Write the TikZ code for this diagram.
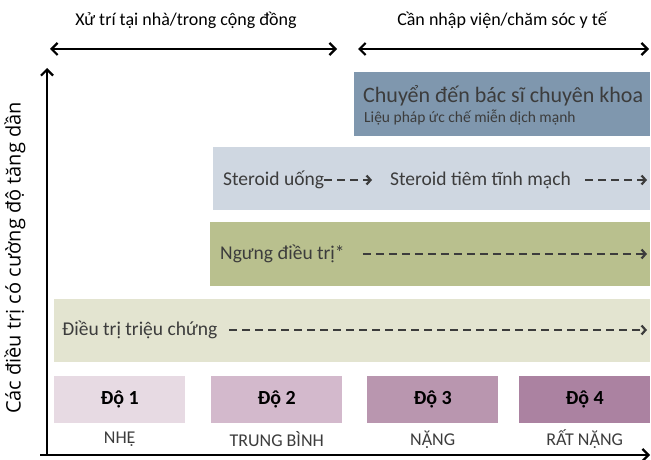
\documentclass[tikz,border=0pt]{standalone}
\usepackage{fontspec}
\setmainfont{Carlito}
\newfontfamily\labelfont{Open Sans}
\usetikzlibrary{arrows.meta}
\definecolor{refer}{HTML}{7F97AE}
\definecolor{steroid}{HTML}{CFD7E1}
\definecolor{hold}{HTML}{B9C08E}
\definecolor{sympt}{HTML}{E3E4D0}
\definecolor{grade1}{HTML}{E7DAE3}
\definecolor{grade2}{HTML}{D3B9CC}
\definecolor{grade3}{HTML}{B996AF}
\definecolor{grade4}{HTML}{AB82A1}
\definecolor{ink}{HTML}{3C3C3C}

\tikzset{
  band/.style={anchor=north west,inner sep=0pt,minimum height=#1},
  boxtext/.style={anchor=west,inner sep=0pt,text=ink,font=\fontsize{19.5}{22}\selectfont},
  dasharrow/.style={draw=ink,line width=2.6pt,dash pattern=on 8pt off 5pt,
    -{Straight Barb[length=4pt,width=9pt,line width=2.2pt]}},
}

\begin{document}
\begin{tikzpicture}[x=1pt,y=-1pt,font=\fontsize{18}{21}\selectfont]
\useasboundingbox (0,0) rectangle (651,460);

\begin{scope}[line width=2.2pt]
% Axes:
\coordinate (origin) at (47,455);
\coordinate (ytop) at (47,68);
\coordinate (xleft) at (40,455);
\coordinate (xright) at (650,455);
\draw [-{Straight Barb[length=6pt,width=12pt]}] (origin) -- (ytop);
\draw [-{Straight Barb[length=6pt,width=12pt]}] (xleft) -- (xright);

% Care settings:
\coordinate (home_l) at (50,49);
\coordinate (home_r) at (337,49);
\coordinate (hosp_l) at (358,49);
\coordinate (hosp_r) at (649,49);
\draw [{Straight Barb[length=6pt,width=12pt]}-{Straight Barb[length=6pt,width=12pt]}] (home_l) -- (home_r);
\draw [{Straight Barb[length=6pt,width=12pt]}-{Straight Barb[length=6pt,width=12pt]}] (hosp_l) -- (hosp_r);
\end{scope}

\node (home) at (186,20) {Xử trí tại nhà/trong cộng đồng};
\node (hosp) at (502,20) {Cần nhập viện/chăm sóc y tế};

\node [rotate=90,font=\labelfont\fontsize{20}{23}\selectfont] (ylabel) at (15,258) {Các điều trị có cường độ tăng dần};

% Bands:
\node [band=64pt,minimum width=296pt,fill=refer] (refer_b) at (354,72) {};
\node [band=63pt,minimum width=437pt,fill=steroid] (steroid_b) at (213,147) {};
\node [band=64pt,minimum width=440pt,fill=hold] (hold_b) at (210,222) {};
\node [band=63pt,minimum width=596pt,fill=sympt] (sympt_b) at (54,299) {};

% Texts in the bands
\node [boxtext,font=\fontsize{22}{25}\selectfont] (refer_t) at (363,96) {Chuyển đến bác sĩ chuyên khoa};
\node [boxtext,font=\fontsize{15.5}{18}\selectfont] (refer_s) at (364,118) {Liệu pháp ức chế miễn dịch mạnh};

\node [boxtext] (oral) at (223,180) {Steroid uống};
\node [boxtext] (iv) at (390,180) {Steroid tiêm tĩnh mạch};
\coordinate (iv_end) at (647,180);

\node [boxtext] (hold_t) at (220,254) {Ngưng điều trị*};
\coordinate (hold_end) at (647,254);

\node [boxtext] (sympt_t) at (62,330) {Điều trị triệu chứng};
\coordinate (sympt_end) at (647,330);

% Dashed arrows
\path [dasharrow] (oral.east) -- ([xshift=-18pt]iv.west);
\path [dasharrow] ([xshift=14pt]iv.east) -- (iv_end);
\path [dasharrow] ([xshift=18pt]hold_t.east) -- (hold_end);
\path [dasharrow] ([xshift=12pt]sympt_t.east) -- (sympt_end);

% Grades
\foreach \n/\x/\lbl in {1/54/NHẸ,2/211/TRUNG BÌNH,3/367/NẶNG,4/519/RẤT NẶNG}{%
  \node [band=47pt,minimum width=131pt,fill=grade\n] (grade\n) at (\x,376) {};
  \node [font=\bfseries\fontsize{20}{23}\selectfont] (grade\n_t) at (grade\n.center) {Độ \n};
  \node [text=ink] (sev\n) at ([yshift=-16pt]grade\n.south) {\lbl};
}
\end{tikzpicture}
\end{document}
